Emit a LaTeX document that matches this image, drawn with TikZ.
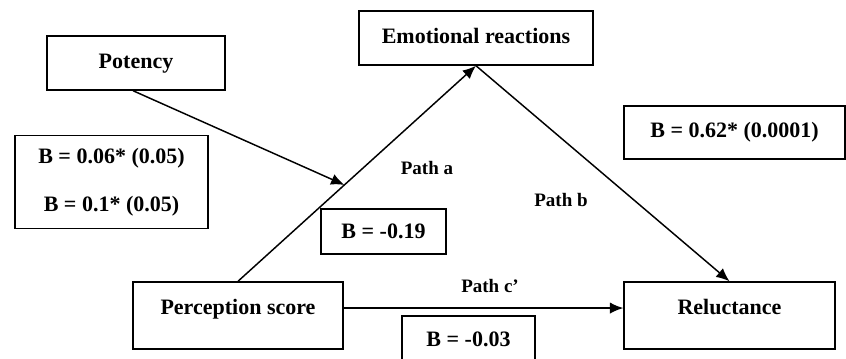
\documentclass[tikz,border=0pt]{standalone}
\usepackage{fontspec}
\setmainfont{Liberation Serif}
\usetikzlibrary{arrows.meta,positioning,calc}

\begin{document}
\begin{tikzpicture}[
  x=0.75pt, y=-0.75pt,
  var/.style={rectangle, draw, line width=1.1pt, inner sep=0pt, align=center,
    font=\fontsize{16.5}{20}\selectfont\bfseries, text height=24pt, text depth=16.5pt},
  tallvar/.style={var, text depth=26.25pt},
  coef/.style={rectangle, draw, line width=1.1pt, inner sep=0pt, align=center,
    font=\fontsize{16.5}{20}\selectfont\bfseries},
  pathlbl/.style={font=\fontsize{14.25}{17}\selectfont\bfseries, inner sep=0pt},
  arrow/.style={-{Latex[length=10pt, width=8.5pt]}, line width=1.1pt}
]
\useasboundingbox (0,0) rectangle (846,358);
\clip (0,0) rectangle (846,358);
\node[var, minimum width=133.5pt] (pot) at (136,63) {Potency};
\node[var, minimum width=175.5pt] (emo) at (476,38) {Emotional reactions};
\node[tallvar, minimum width=157.5pt] (per) at (238,315.5) {Perception score};
\node[tallvar, minimum width=158.25pt] (rel) at (729.5,315.5) {Reluctance};
\node[coef, minimum width=144.75pt, minimum height=69.75pt,
  font=\fontsize{16.5}{36}\selectfont\bfseries] (bpot) at (111.5,182) {B = 0.06* (0.05)\\B = 0.1* (0.05)};
\node[coef, minimum width=165.75pt, minimum height=39.75pt] (bb) at (734.5,132.5) {B = 0.62* (0.0001)};
\node[coef, minimum width=93.75pt, minimum height=33.75pt] (ba) at (383.5,231.5) {B = -0.19};
\node[coef, minimum width=99.75pt, minimum height=34.5pt] (bc) at (468.5,339) {B = -0.03};
\node[pathlbl] (la) at (427,168) {Path a};
\node[pathlbl] (lb) at (561,200) {Path b};
\node[pathlbl] (lc) at (490,286) {Path c'};
\draw[arrow] (per.north) -- coordinate[pos=0.447] (hit) (emo.south);
\draw[arrow] (emo.south) -- (rel.north);
\draw[arrow] ([yshift=5.6pt]per.east) -- ([yshift=5.6pt]rel.west);
\draw[arrow] ([xshift=-2.2pt]pot.south) -- (hit);
\end{tikzpicture}
\end{document}
